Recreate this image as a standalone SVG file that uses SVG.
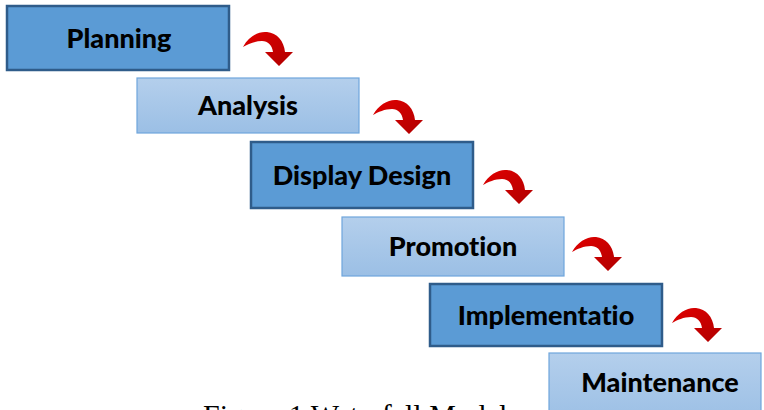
<svg xmlns="http://www.w3.org/2000/svg" width="764" height="410" viewBox="0 0 764 410">
<defs>
<linearGradient id="lg" x1="0" y1="0" x2="0" y2="1">
<stop offset="0" stop-color="#B4CFEC"/>
<stop offset="1" stop-color="#9BBFE5"/>
</linearGradient>
<linearGradient id="rg" x1="0" y1="0" x2="1" y2="1">
<stop offset="0" stop-color="#E00000"/>
<stop offset="1" stop-color="#B00000"/>
</linearGradient>
<path id="arr" d="M0,17 C6,6 16,1 24,2 C34,3 41,11 42,22 L50,22 L36,36 L22,22 L30,22 C29,15 25,11 19,11 C12,11 5,14 0,17 Z"/>
<style>
.dark{fill:#5B9BD5;stroke:#2F5C8A;stroke-width:2.5}
.light{fill:url(#lg);stroke:#6FA6DC;stroke-width:1.2}
.lbl{font-family:Lato,"Open Sans","Liberation Sans",sans-serif;font-weight:900;font-size:27px;fill:#000;text-anchor:middle;font-variant-ligatures:none}
.arrow{fill:url(#rg)}
.cap{font-family:"Liberation Serif",serif;font-size:30px;fill:#000}
</style>
</defs>
<rect width="764" height="410" fill="#fff"/>
<g id="planning"><rect class="dark" x="7" y="6" width="222" height="64"/><text class="lbl" x="119" y="48">Planning</text></g>
<g id="analysis"><rect class="light" x="137" y="78" width="222" height="55"/><text class="lbl" x="248" y="115">Analysis</text></g>
<g id="display-design"><rect class="dark" x="251" y="142" width="222" height="66"/><text class="lbl" x="362" y="185">Display Design</text></g>
<g id="promotion"><rect class="light" x="342" y="217" width="222" height="59"/><text class="lbl" x="453" y="256">Promotion</text></g>
<g id="implementation"><rect class="dark" x="430" y="284" width="232" height="62"/><text class="lbl" x="546" y="325">Implementatio</text></g>
<g id="maintenance"><rect class="light" x="549" y="353" width="212" height="70"/><text class="lbl" x="660" y="392">Maintenance</text></g>
<g id="connectors">
<use href="#arr" class="arrow" transform="translate(243,30)"/>
<use href="#arr" class="arrow" transform="translate(373,98)"/>
<use href="#arr" class="arrow" transform="translate(483,168)"/>
<use href="#arr" class="arrow" transform="translate(572,235)"/>
<use href="#arr" class="arrow" transform="translate(672,306)"/>
</g>
<text class="cap" x="203" y="425">Figure 1 Waterfall Model</text>
</svg>
